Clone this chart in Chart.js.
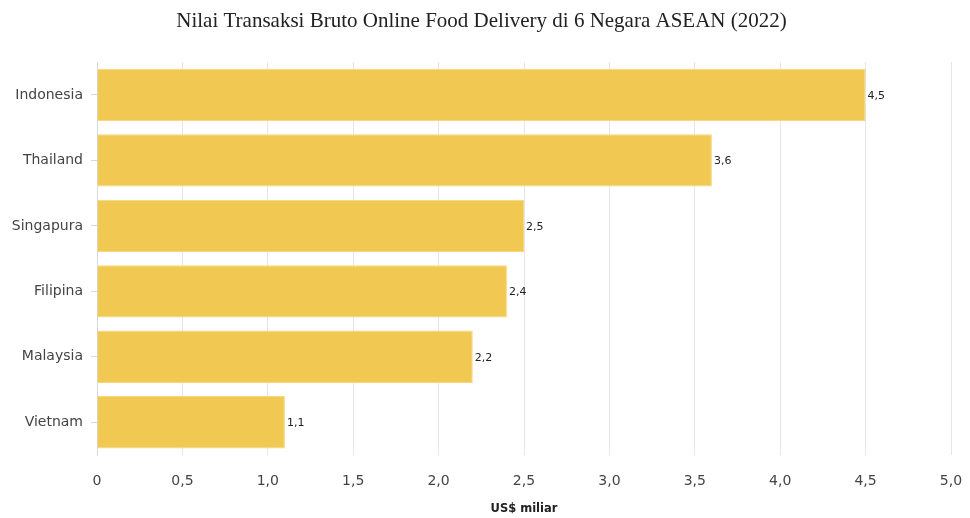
<!DOCTYPE html>
<html>
<head>
<meta charset="utf-8">
<script src="https://cdn.jsdelivr.net/npm/chart.js@4"></script>
<style>
  html, body { margin: 0; padding: 0; background: #fff; }
  #wrap { width: 970px; height: 518px; position: relative; }
</style>
</head>
<body>
<div id="wrap"><canvas id="c"></canvas></div>
<script>
  const countries = ['Indonesia', 'Thailand', 'Singapura', 'Filipina', 'Malaysia', 'Vietnam'];
  const gmvValues = [4.5, 3.6, 2.5, 2.4, 2.2, 1.1];
  const xMax = 5;
  const xStep = 0.5;

  const comma = v => (+v).toFixed(1).replace('.', ',');

  // draws the small value labels at the end of each bar
  const barLabels = {
    id: 'barLabels',
    afterDatasetsDraw(chart) {
      const ctx = chart.ctx;
      ctx.save();
      ctx.font = '11px "DejaVu Sans", Verdana, sans-serif';
      ctx.fillStyle = '#222';
      ctx.textAlign = 'left';
      ctx.textBaseline = 'middle';
      chart.getDatasetMeta(0).data.forEach((bar, i) => {
        ctx.fillText(comma(gmvValues[i]), bar.x + 2, bar.y + 1);
      });
      ctx.restore();
    }
  };

  new Chart(document.getElementById('c'), {
    type: 'bar',
    data: {
      labels: countries,
      datasets: [{
        data: gmvValues,
        backgroundColor: '#f0c852',
        borderColor: '#f6d77e',
        borderWidth: 1,
        categoryPercentage: 0.8,
        barPercentage: 1
      }]
    },
    options: {
      indexAxis: 'y',
      responsive: true,
      maintainAspectRatio: false,
      animation: false,
      layout: { padding: { left: 12, right: 19, top: 0, bottom: 0 } },
      plugins: {
        legend: { display: false },
        tooltip: { enabled: false },
        title: {
          display: true,
          text: 'Nilai Transaksi Bruto Online Food Delivery di 6 Negara ASEAN (2022)',
          font: { family: '"Liberation Serif", "Times New Roman", serif', size: 21, weight: 'normal' },
          color: '#222',
          padding: { top: 9, bottom: 28 }
        }
      },
      scales: {
        x: {
          min: 0,
          max: xMax,
          ticks: {
            stepSize: xStep,
            color: '#444',
            padding: 18,
            font: { family: '"DejaVu Sans", Verdana, sans-serif', size: 14 },
            callback: v => v === 0 ? '0' : comma(v)
          },
          grid: { color: '#e6e6e6', tickLength: 0, drawTicks: false },
          border: { display: false },
          title: {
            display: true,
            text: 'US$ miliar',
            color: '#222',
            font: { family: '"DejaVu Sans", Verdana, sans-serif', size: 11.5, weight: 'bold' },
            padding: { top: 0, bottom: 2 }
          },
          afterFit: s => { s.height = 63; s.paddingLeft = 0; s.paddingRight = 0; }
        },
        y: {
          ticks: {
            color: '#444',
            padding: 8,
            font: { family: '"DejaVu Sans", Verdana, sans-serif', size: 14 }
          },
          grid: { display: true, offset: false, drawOnChartArea: false, tickLength: 6, color: '#d8d8d8' },
          border: { display: true, color: '#d8d8d8' },
          afterFit: s => { s.width = 85; }
        }
      }
    },
    plugins: [barLabels]
  });
</script>
</body>
</html>
